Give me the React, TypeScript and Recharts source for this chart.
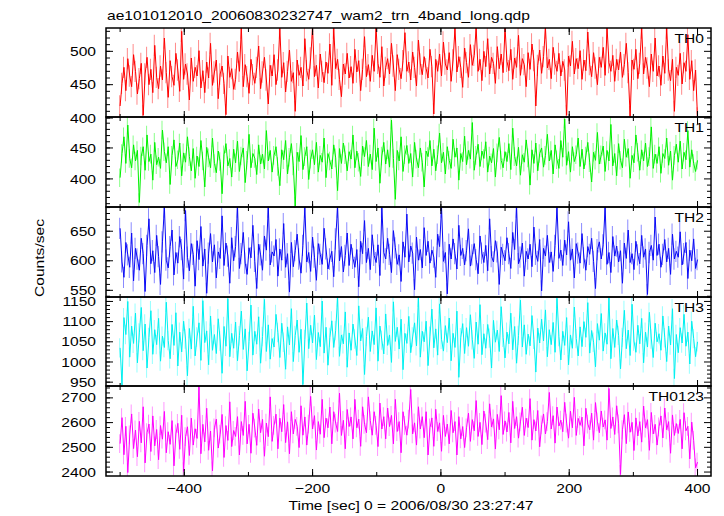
import React from 'react';
import { ComposedChart, Line, Bar, XAxis, YAxis } from 'recharts';

// 3 s bins, time relative to 2006/08/30 23:27:47
const T_START = -500;
const T_BIN = 3;

const TH0 = [
  418, 452, 476, 441, 489, 463, 447, 495, 470, 436,
  459, 482, 404, 466, 491, 450, 473, 438, 509, 461,
  444, 478, 457, 520, 468, 431, 486, 462, 449, 497,
  472, 440, 530, 458, 481, 466, 427, 490, 455, 476,
  463, 501, 445, 471, 438, 484, 460, 512, 449, 469,
  487, 429, 466, 478, 452, 405, 493, 461, 474, 443,
  458, 499, 470, 535, 447, 480, 462, 437, 488, 465,
  452, 476, 508, 444, 469, 491, 457, 421, 479, 463,
  495, 450, 472, 535, 461, 483, 439, 470, 502, 455,
  468, 410, 487, 464, 476, 448, 519, 471, 458, 490,
  535, 462, 479, 445, 496, 470, 453, 484, 467, 511,
  449, 535, 474, 488, 458, 432, 481, 466, 497, 460,
  477, 452, 503, 469, 486, 441, 473, 522, 462, 480,
  455, 494, 470, 535, 482, 461, 507, 448, 476, 489,
  466, 512, 478, 441, 495, 473, 459, 486, 528, 470,
  484, 457, 499, 476, 448, 517, 481, 465, 492, 474,
  460, 503, 477, 406, 488, 470, 496, 463, 514, 481,
  472, 498, 455, 487, 535, 469, 492, 476, 446, 505,
  483, 461, 510, 479, 494, 535, 470, 488, 456, 500,
  477, 519, 466, 491, 482, 452, 507, 474, 496, 468,
  535, 485, 471, 503, 458, 490, 476, 524, 464, 489,
  480, 447, 498, 473, 511, 486, 418, 479, 502, 467,
  492, 535, 475, 488, 459, 506, 481, 470, 497, 463,
  485, 472, 404, 493, 478, 515, 466, 489, 474, 501,
  458, 487, 471, 529, 480, 462, 498, 475, 450, 491,
  476, 506, 464, 535, 483, 470, 494, 455, 488, 472,
  499, 461, 480, 512, 468, 402, 487, 473, 503, 459,
  482, 535, 466, 491, 475, 447, 496, 470, 520, 463,
  478, 449, 493, 467, 535, 472, 456, 488, 410, 476,
  464, 497, 451, 483, 470, 525, 458, 486, 441, 472,
  400,
];

const TH1 = [
  402, 441, 468, 425, 487, 433, 418, 455, 429, 446,
  362, 437, 452, 414, 471, 428, 440, 398, 459, 423,
  435, 417, 479, 444, 426, 452, 391, 438, 463, 420,
  431, 458, 405, 442, 427, 468, 436, 413, 449, 401,
  437, 420, 462, 429, 387, 451, 434, 418, 466, 425,
  410, 445, 428, 376, 439, 457, 421, 433, 403, 448,
  426, 461, 412, 437, 450, 394, 430, 472, 418, 441,
  433, 407, 455, 424, 440, 416, 478, 429, 446, 411,
  438, 452, 420, 389, 447, 431, 462, 408, 435, 457,
  421, 356, 443, 428, 470, 415, 436, 452, 399, 432,
  447, 423, 459, 411, 438, 427, 466, 402, 441, 429,
  416, 455, 434, 381, 449, 425, 458, 439, 413, 444,
  432, 471, 418, 445, 427, 404, 453, 436, 462, 420,
  440, 415, 482, 428, 450, 393, 437, 459, 424, 447,
  419, 495, 433, 367, 446, 429, 468, 412, 439, 454,
  425, 441, 403, 459, 432, 418, 450, 427, 387, 445,
  436, 462, 421, 448, 413, 439, 474, 426, 443, 408,
  452, 430, 417, 464, 435, 450, 398, 441, 428, 469,
  423, 446, 432, 491, 414, 438, 456, 420, 445, 433,
  460, 411, 437, 426, 449, 403, 442, 467, 430, 418,
  444, 428, 457, 415, 482, 436, 421, 451, 406, 439,
  427, 463, 434, 390, 447, 425, 458, 413, 441, 450,
  419, 438, 472, 429, 446, 408, 455, 431, 417, 462,
  435, 497, 422, 444, 411, 452, 428, 439, 466, 420,
  448, 416, 437, 459, 426, 395, 443, 430, 475, 424,
  439, 453, 412, 446, 429, 488, 421, 441, 405, 457,
  430, 418, 464, 435, 449, 401, 438, 426, 471, 443,
  414, 447, 429, 458, 420, 436, 484, 417, 440, 425,
  452, 409, 441, 433, 466, 422, 445, 398, 438, 456,
  427, 461, 416, 443, 431, 478, 419, 447, 425, 412,
  430,
];

const TH2 = [
  655, 598, 572, 631, 610, 589, 647, 566, 621, 603,
  584, 638, 612, 548, 626, 671, 595, 617, 580, 643,
  607, 560, 632, 691, 601, 588, 624, 652, 576, 614,
  596, 641, 619, 569, 685, 606, 583, 629, 611, 557,
  634, 602, 658, 591, 620, 545, 613, 646, 598, 627,
  571, 615, 604, 676, 592, 630, 608, 562, 639, 600,
  624, 691, 587, 612, 648, 596, 577, 622, 605, 660,
  599, 553, 628, 610, 584, 642, 618, 691, 593, 615,
  608, 636, 574, 620, 601, 663, 589, 612, 547, 631,
  590, 617, 645, 603, 579, 626, 691, 598, 614, 582,
  640, 606, 567, 629, 611, 594, 655, 620, 586, 603,
  616, 573, 637, 691, 600, 624, 581, 609, 647, 592,
  628, 604, 589, 619, 556, 633, 612, 668, 597, 621,
  585, 644, 609, 597, 627, 575, 691, 614, 603, 638,
  611, 580, 651, 622, 594, 610, 565, 632, 606, 679,
  598, 625, 613, 551, 640, 601, 619, 588, 656, 609,
  633, 596, 618, 606, 572, 645, 624, 691, 599, 614,
  544, 628, 603, 637, 612, 586, 660, 609, 621, 593,
  617, 654, 591, 610, 629, 602, 578, 642, 613, 597,
  626, 583, 671, 607, 598, 634, 615, 560, 623, 611,
  600, 639, 612, 587, 648, 619, 691, 595, 606, 630,
  574, 616, 603, 628, 590, 657, 611, 599, 636, 549,
  621, 608, 643, 597, 615, 582, 626, 691, 604, 618,
  592, 635, 610, 666, 601, 620, 571, 629, 613, 596,
  646, 605, 584, 624, 611, 638, 599, 553, 619, 632,
  603, 627, 691, 594, 614, 580, 641, 608, 625, 598,
  617, 562, 630, 604, 652, 597, 612, 585, 633, 610,
  595, 643, 606, 620, 543, 614, 626, 601, 674, 609,
  628, 589, 611, 636, 598, 621, 577, 645, 603, 616,
  606, 649, 593, 612, 631, 570, 618, 600, 637, 587,
  602,
];

const TH3 = [
  1035, 942, 1110, 1068, 1150, 1012, 1089, 1046, 1121, 998,
  1072, 1135, 1028, 1094, 985, 1061, 1127, 1019, 1080, 1043,
  1108, 1002, 1064, 1036, 1148, 1053, 1008, 1093, 1041, 1122,
  990, 1074, 1025, 1101, 1057, 966, 1083, 1032, 1138, 1015,
  1062, 1097, 1004, 1152, 1048, 1077, 993, 1114, 1029, 1068,
  1021, 1107, 1052, 972, 1088, 1039, 1157, 1013, 1071, 1034,
  1099, 1003, 1065, 1126, 1031, 1082, 978, 1051, 1141, 1017,
  1076, 1044, 1112, 997, 1063, 1155, 1026, 1092, 1007, 1058,
  1037, 1118, 1073, 1011, 1096, 1049, 982, 1087, 1042, 1132,
  1001, 1066, 1104, 1024, 1081, 944, 1056, 1146, 1033, 1091,
  1047, 1116, 1006, 1073, 1038, 1151, 1022, 1086, 992, 1061,
  1102, 1036, 1078, 1161, 1014, 1067, 1045, 1124, 987, 1072,
  1029, 1094, 1057, 1016, 1139, 1052, 1083, 969, 1063, 1111,
  1026, 1077, 1043, 1134, 1002, 1089, 1054, 1020, 1119, 1041,
  1067, 999, 1149, 1051, 1086, 1032, 1106, 981, 1071, 1046,
  1113, 1023, 1062, 1097, 1040, 1160, 1012, 1076, 1050, 1101,
  991, 1064, 1131, 1035, 1082, 1017, 1144, 1056, 1027, 1090,
  1048, 1109, 1003, 1071, 1036, 1126, 962, 1060, 1095, 1021,
  1085, 1039, 1117, 1055, 1009, 1099, 1044, 1142, 1018, 1070,
  1034, 1093, 1059, 985, 1103, 1049, 1079, 1026, 1137, 1061,
  1010, 1074, 1045, 1121, 1030, 1088, 997, 1066, 1153, 1037,
  1092, 1019, 1069, 1040, 1115, 1056, 975, 1084, 1047, 1106,
  1052, 1129, 1013, 1080, 1043, 1098, 1024, 1158, 1063, 1005,
  1076, 1041, 1110, 993, 1067, 1034, 1136, 1058, 1015, 1087,
  1038, 1100, 1061, 1147, 1022, 1078, 1049, 988, 1095, 1054,
  1120, 1027, 1072, 1044, 1159, 1008, 1083, 1036, 1104, 1066,
  983, 1061, 1128, 1033, 1079, 1016, 1143, 1052, 1024, 1091,
  1045, 1108, 998, 1074, 1037, 1123, 1057, 1011, 1096, 1050,
  1070, 1029, 1114, 1060, 1001, 1089, 1042, 1132, 959, 1068,
  1023, 1085, 1047, 1118, 1039, 1074, 995, 1101, 1058, 1013,
  1050,
];

const TH0123 = [
  2515, 2620, 2470, 2585, 2398, 2550, 2635, 2495, 2570, 2462,
  2605, 2518, 2664, 2437, 2559, 2594, 2483, 2627, 2506, 2572,
  2450, 2588, 2533, 2645, 2478, 2563, 2512, 2608, 2425, 2554,
  2597, 2492, 2630, 2402, 2543, 2583, 2467, 2618, 2509, 2575,
  2536, 2748, 2474, 2593, 2522, 2658, 2488, 2566, 2405, 2579,
  2614, 2497, 2553, 2633, 2459, 2588, 2528, 2684, 2503, 2568,
  2544, 2624, 2469, 2604, 2548, 2686, 2514, 2593, 2476, 2638,
  2578, 2508, 2655, 2559, 2613, 2464, 2598, 2543, 2704, 2524,
  2589, 2634, 2494, 2618, 2563, 2673, 2519, 2603, 2474, 2644,
  2554, 2613, 2585, 2499, 2668, 2549, 2623, 2509, 2594, 2706,
  2574, 2628, 2489, 2604, 2553, 2694, 2539, 2618, 2579, 2663,
  2514, 2644, 2598, 2564, 2719, 2548, 2609, 2494, 2653, 2584,
  2623, 2534, 2694, 2579, 2614, 2504, 2664, 2593, 2559, 2704,
  2608, 2549, 2644, 2589, 2503, 2679, 2574, 2624, 2534, 2659,
  2584, 2629, 2514, 2694, 2564, 2604, 2478, 2644, 2589, 2549,
  2614, 2734, 2554, 2599, 2509, 2664, 2574, 2624, 2539, 2644,
  2469, 2579, 2619, 2504, 2654, 2564, 2599, 2484, 2629, 2544,
  2594, 2514, 2649, 2559, 2604, 2469, 2624, 2534, 2584, 2499,
  2579, 2638, 2524, 2612, 2567, 2689, 2544, 2601, 2511, 2647,
  2598, 2531, 2676, 2582, 2615, 2493, 2633, 2571, 2709, 2552,
  2607, 2562, 2641, 2518, 2686, 2576, 2624, 2537, 2603, 2662,
  2548, 2618, 2580, 2697, 2529, 2612, 2566, 2649, 2502, 2591,
  2635, 2554, 2604, 2722, 2574, 2628, 2517, 2663, 2586, 2610,
  2563, 2682, 2598, 2537, 2646, 2579, 2702, 2548, 2617, 2589,
  2622, 2506, 2658, 2594, 2571, 2638, 2529, 2681, 2603, 2559,
  2647, 2582, 2611, 2529, 2738, 2576, 2623, 2552, 2668, 2595,
  2390, 2571, 2632, 2515, 2643, 2561, 2601, 2487, 2619, 2546,
  2604, 2521, 2667, 2578, 2612, 2488, 2641, 2554, 2593, 2509,
  2583, 2627, 2538, 2659, 2571, 2604, 2476, 2631, 2548, 2596,
  2556, 2613, 2494, 2640, 2567, 2585, 2453, 2602, 2528, 2417,
  2440,
];

// 1-sigma error per bin
const ERR_TH0 = 16;
const ERR_TH1 = 15;
const ERR_TH2 = 18;
const ERR_TH3 = 24;
const ERR_TH0123 = 38;

const X_TICKS = [-500, -400, -300, -200, -100, 0, 100, 200, 300, 400];
const X_LABELS = [-400, -200, 0, 200, 400];
const X_DOMAIN = [-522, 421];

const TH0_LABELS = [400, 450, 500];
const TH1_LABELS = [400, 450];
const TH2_LABELS = [550, 600, 650];
const TH3_LABELS = [950, 1000, 1050, 1100, 1150];
const TH0123_LABELS = [2400, 2500, 2600, 2700];

const TITLE = 'ae101012010_20060830232747_wam2_trn_4band_long.qdp';
const Y_TITLE = 'Counts/sec';
const X_TITLE = 'Time [sec] 0 = 2006/08/30 23:27:47';

const panels = [
  { name: 'TH0', values: TH0, err: ERR_TH0, color: '#ff0000', light: '#ff8a8a', domain: [400, 535], labels: TH0_LABELS, minor: 10 },
  { name: 'TH1', values: TH1, err: ERR_TH1, color: '#00f000', light: '#8aff8a', domain: [353, 500], labels: TH1_LABELS, minor: 10 },
  { name: 'TH2', values: TH2, err: ERR_TH2, color: '#0a0af5', light: '#8a8aff', domain: [537, 691], labels: TH2_LABELS, minor: 10 },
  { name: 'TH3', values: TH3, err: ERR_TH3, color: '#00f0f0', light: '#96ffff', domain: [938, 1161], labels: TH3_LABELS, minor: 10 },
  { name: 'TH0123', values: TH0123, err: ERR_TH0123, color: '#ff00ff', light: '#ff96ff', domain: [2384, 2748], labels: TH0123_LABELS, minor: 20 },
];

const PANEL_TOPS = [28, 117, 207, 297, 386, 476];
const W = 724;
const H = 516;
const LEFT_W = 106;
const RIGHT_W = 13;
const PLOT_RIGHT = W - RIGHT_W;
const TICK_MAJOR = 7;
const TICK_MINOR = 4;
const PAD = 2;
const TICK_LINE = { stroke: '#000', strokeWidth: 1 };

const SX = 1.2;
const FS = 13;

const fmt = (v: number) => (v < 0 ? `\u2212${-v}` : `${v}`);

const StretchText = ({ x, y, anchor = 'start', rotate = 0, children }: any) => (
  <text
    transform={`translate(${x} ${y}) rotate(${rotate}) scale(${SX} 1)`}
    fontSize={FS}
    fontFamily="'Liberation Sans', Arial, sans-serif"
    textAnchor={anchor}
    fill="#000"
  >
    {children}
  </text>
);

const rangeTicks = (domain: number[], step: number) => {
  const out: number[] = [];
  for (let v = Math.ceil(domain[0] / step) * step; v <= domain[1]; v += step) out.push(v);
  return out;
};

// x, y arrive on the axis line (tickSize -4 with tickMargin 4)
const xTick = (side: 'top' | 'bottom', showLabel: boolean) => (props: any) => {
  const x = Number(props.x);
  const y = Number(props.y);
  const v = props.payload.value;
  const major = X_LABELS.includes(v);
  const ry = side === 'bottom' ? y - TICK_MAJOR : y;
  return (
    <g>
      {major && <rect x={x - 0.5} y={ry} width={1} height={TICK_MAJOR} fill="#000" />}
      {showLabel && major && (
        <StretchText x={x} y={y + 17} anchor="middle">{fmt(v)}</StretchText>
      )}
    </g>
  );
};

// left axis ticks, mirrored onto the right frame edge
const yTick = (labels: number[]) => (props: any) => {
  const x = Number(props.x);
  const y = Number(props.y);
  const v = props.payload.value;
  const major = labels.includes(v);
  const len = major ? TICK_MAJOR : TICK_MINOR;
  return (
    <g>
      {major && <rect x={x} y={y - 0.5} width={TICK_MAJOR} height={1} fill="#000" />}
      <rect x={PLOT_RIGHT - len} y={y - 0.5} width={len} height={1} fill="#000" />
      {major && <StretchText x={x - 10} y={y + 4.6} anchor="end">{fmt(v)}</StretchText>}
    </g>
  );
};

const Panel = ({ p, index }: any) => {
  const top = PANEL_TOPS[index];
  const h = PANEL_TOPS[index + 1] - top;
  const last = index === panels.length - 1;
  const xh = last ? 40 : 1;
  const rows = p.values.map((v: number, i: number) => ({
    t: T_START + i * T_BIN,
    v,
    band: [v - p.err, v + p.err],
  }));
  const yTicks = rangeTicks(p.domain, p.minor);
  const common = {
    allowDataOverflow: true,
    interval: 0 as const,
    tickSize: -TICK_MINOR,
    tickMargin: TICK_MINOR,
    axisLine: false,
    tickLine: TICK_LINE,
  };
  return (
    <div style={{ position: 'absolute', left: 0, top: top - PAD }}>
      <ComposedChart
        width={W}
        height={h + PAD * 2 + xh}
        data={rows}
        margin={{ top: PAD - 1, right: RIGHT_W, bottom: last ? PAD : PAD - 1, left: 0 }}
      >
        <XAxis
          {...common}
          dataKey="t"
          type="number"
          domain={X_DOMAIN}
          ticks={X_TICKS}
          height={xh}
          tick={xTick('bottom', last)}
        />
        <XAxis
          {...common}
          xAxisId="top"
          dataKey="t"
          orientation="top"
          type="number"
          domain={X_DOMAIN}
          ticks={X_TICKS}
          height={1}
          tick={xTick('top', false)}
        />
        <YAxis
          {...common}
          type="number"
          domain={p.domain}
          ticks={yTicks}
          width={LEFT_W}
          tick={yTick(p.labels)}
        />
        <Bar
          xAxisId="top"
          dataKey="band"
          fill={p.light}
          barSize={1}
          isAnimationActive={false}
        />
        <Line
          dataKey="v"
          stroke={p.color}
          strokeWidth={1}
          dot={false}
          activeDot={false}
          isAnimationActive={false}
        />
      </ComposedChart>
    </div>
  );
};

export default function App() {
  return (
    <div style={{ position: 'absolute', left: 0, top: 0, width: W, height: H, background: '#fff', overflow: 'hidden' }}>
      <style>{'.recharts-surface{overflow:visible}'}</style>
      {panels.map((p, i) => (
        <Panel key={p.name} p={p} index={i} />
      ))}
      <svg
        width={W}
        height={H}
        style={{ position: 'absolute', left: 0, top: 0, pointerEvents: 'none' }}
      >
        {/* panel frames */}
        {panels.map((p, i) => (
          <rect
            key={`f-${p.name}`}
            x={LEFT_W}
            y={PANEL_TOPS[i]}
            width={PLOT_RIGHT - LEFT_W}
            height={PANEL_TOPS[i + 1] - PANEL_TOPS[i]}
            fill="none"
            stroke="#000"
            strokeWidth={1.5}
          />
        ))}
        <StretchText x={107} y={20}>{TITLE}</StretchText>
        <StretchText x={44} y={258} anchor="middle" rotate={-90}>{Y_TITLE}</StretchText>
        <StretchText x={411} y={510} anchor="middle">{X_TITLE}</StretchText>
        {panels.map((p, i) => (
          <StretchText key={p.name} x={704} y={PANEL_TOPS[i] + 15} anchor="end">{p.name}</StretchText>
        ))}
      </svg>
    </div>
  );
}
